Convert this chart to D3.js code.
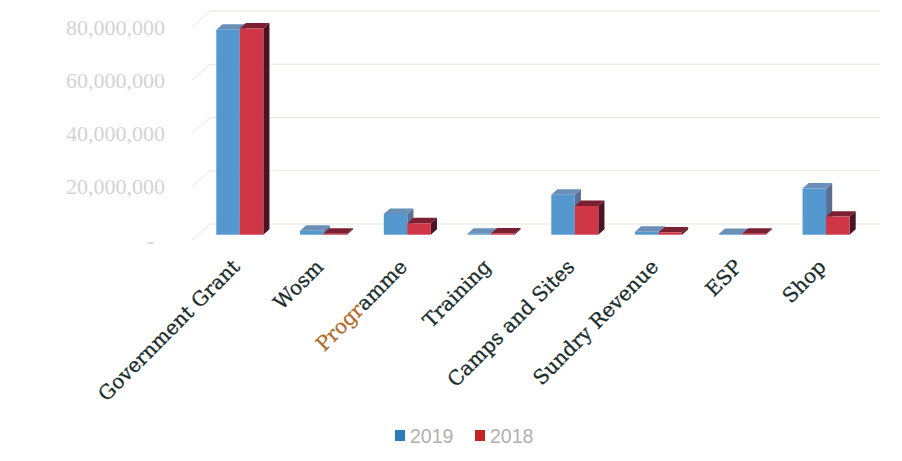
<!DOCTYPE html>
<html>
<head>
<meta charset="utf-8">
<script src="https://cdn.jsdelivr.net/npm/d3@7"></script>
<style>
  html, body { margin: 0; padding: 0; background: #ffffff; }
  svg { display: block; }
</style>
</head>
<body>
<svg id="chart" width="902" height="461"></svg>
<script>
// ---- data ----
const categories = ["Government Grant", "Wosm", "Programme", "Training", "Camps and Sites", "Sundry Revenue", "ESP", "Shop"];
const seriesNames = ["2019", "2018"];
const values2019 = [77000000, 1500000, 7800000, 400000, 15000000, 1100000, 300000, 17400000];
const values2018 = [77500000, 400000, 4300000, 500000, 10800000, 900000, 400000, 6800000];
const yTicks = [0, 20000000, 40000000, 60000000, 80000000];
const yTickLabels = ["-", "20,000,000", "40,000,000", "60,000,000", "80,000,000"];

// ---- styles ----
const faces = {
  "2019": { front: "#5598d0", top: "#6c8fb8", side: "#5a6f96", legend: "#2a7cbd" },
  "2018": { front: "#cf3646", top: "#7a2030", side: "#4a1424", legend: "#c42424" }
};

const svg = d3.select("#chart");

// front plane geometry + depth projection
const x0 = 192, x1 = 862;
const DX = 18, DY = -16;        // full depth offset (back wall)
const barD0 = 0.33, barD1 = 0.67; // bar depth range
const P = (x, y, d) => [x + DX * d, y + DY * d];

const x = d3.scaleBand().domain(categories).range([x0, x1]).paddingInner(0).paddingOuter(0);
const xs = d3.scaleBand().domain(seriesNames).range([0, x.bandwidth()]).paddingInner(0).paddingOuter(0.78);
const y = d3.scaleLinear().domain([0, 80000000]).range([240, 27]);

// gridlines (side wall + back wall)
const grid = svg.append("g");
yTicks.forEach(v => {
  const pts = [P(x0, y(v), 0), P(x0, y(v), 1), P(x1, y(v), 1)];
  grid.append("polyline")
    .attr("points", pts.map(p => p.join(",")).join(" "))
    .attr("fill", "none")
    .attr("stroke", "#e3e7dd")
    .attr("stroke-width", 1);
});

// y tick labels
svg.append("g").selectAll("text")
  .data(yTicks)
  .join("text")
  .attr("x", (d) => d === 0 ? 154 : 165)
  .attr("y", d => y(d))
  .attr("dy", "0.35em")
  .attr("text-anchor", "end")
  .attr("font-family", "'Liberation Serif', serif")
  .attr("font-size", 22)
  .attr("fill", "#d3d3d3")
  .text((d, i) => yTickLabels[i]);

// bars
const rows = categories.map((c, i) => ({ cat: c, vals: [values2019[i], values2018[i]] }));
const poly = pts => pts.map(p => p.join(",")).join(" ");
const barsG = svg.append("g");
rows.forEach(r => {
  seriesNames.forEach((s, si) => {
    const v = r.vals[si];
    const xl = x(r.cat) + xs(s);
    const xr = xl + xs.bandwidth();
    const yb = y(0), yt = y(v);
    const f = faces[s];
    const g = barsG.append("g");
    g.append("polygon")
      .attr("points", poly([P(xr, yb, barD0), P(xr, yb, barD1), P(xr, yt, barD1), P(xr, yt, barD0)]))
      .attr("fill", f.side);
    g.append("polygon")
      .attr("points", poly([P(xl, yt, barD0), P(xr, yt, barD0), P(xr, yt, barD1), P(xl, yt, barD1)]))
      .attr("fill", f.top);
    g.append("polygon")
      .attr("points", poly([P(xl, yb, barD0), P(xr, yb, barD0), P(xr, yt, barD0), P(xl, yt, barD0)]))
      .attr("fill", f.front);
  });
});

// category labels
const labG = svg.append("g");
categories.forEach(c => {
  const cx = x(c) + x.bandwidth() / 2 + 7;
  const cy = 268;
  const t = labG.append("text")
    .attr("transform", `translate(${cx},${cy}) rotate(-45)`)
    .attr("text-anchor", "end")
    .attr("font-family", "'DejaVu Serif', serif")
    .attr("font-size", 20)
    .attr("fill", "#1a2c2c")
    .attr("stroke", "#1a2c2c")
    .attr("stroke-width", 0.3);
  if (c === "Programme") {
    t.append("tspan").attr("fill", "#b06a2a").attr("stroke", "#b06a2a").text("Progr");
    t.append("tspan").text("amme");
  } else {
    t.text(c);
  }
});

// legend
const leg = svg.append("g");
const legItems = [{ name: "2019", x: 395 }, { name: "2018", x: 475 }];
legItems.forEach(it => {
  leg.append("rect")
    .attr("x", it.x).attr("y", 430)
    .attr("width", 10).attr("height", 11)
    .attr("fill", faces[it.name].legend);
  leg.append("text")
    .attr("x", it.x + 15).attr("y", 436)
    .attr("dy", "0.35em")
    .attr("font-family", "'Liberation Sans', sans-serif")
    .attr("font-size", 19.5)
    .attr("fill", "#b0b0b0")
    .text(it.name);
});
</script>
</body>
</html>
